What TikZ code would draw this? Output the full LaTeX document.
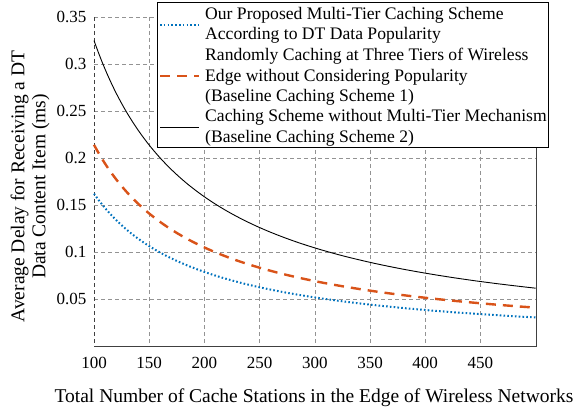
\documentclass[tikz,border=0pt]{standalone}
\usepackage{fontspec}
\setmainfont{Liberation Serif}
\definecolor{mblue}{RGB}{0,114,189}
\definecolor{morange}{RGB}{217,83,25}
\tikzstyle{gridline}=[draw=gray!85, dash pattern=on 4pt off 3pt, line width=0.6pt]
\tikzstyle{axisline}=[draw=black!75, line width=0.8pt]
\tikzstyle{proposed}=[draw=mblue, line width=2pt, dash pattern=on 1.6pt off 2.2pt]
\tikzstyle{baselineone}=[draw=morange, line width=2.4pt, dash pattern=on 10pt off 7pt]
\tikzstyle{baselinetwo}=[draw=black, line width=0.9pt]
\tikzstyle{axislabel}=[font=\fontsize{19.5}{21}\selectfont]
\tikzstyle{legendtext}=[anchor=west, align=left, inner sep=0pt, font=\fontsize{17.6}{20.5}\selectfont]

\begin{document}
\begin{tikzpicture}[x=1pt,y=-1pt,font=\fontsize{17}{20.5}\selectfont]
\useasboundingbox (0,0) rectangle (573,417);
% grid
\foreach \i in {1,...,7} \draw[gridline] ({94+\i*55.2},17) -- ({94+\i*55.2},346);
\foreach \j in {1,...,7} \draw[gridline] (94,{346-\j*47}) -- (536,{346-\j*47});
\draw[gridline, draw=black!75] (94,17) -- (94,346);
\draw[axisline] (94,346) -- (536,346) -- (536,17);
% tick labels
\foreach \i/\lab in {0/100,1/150,2/200,3/250,4/300,5/350,6/400,7/450}
  \node (xt\i) at ({94+\i*55.2},363) {\lab};
\foreach \j/\lab in {1/0.05,2/0.1,3/0.15,4/0.2,5/0.25,6/0.3,7/0.35}
  \node[anchor=east] (yt\j) at (90,{346-\j*47}) {\lab};
\node[axislabel] (xlab) at (314,398) {Total Number of Cache Stations in the Edge of Wireless Networks};
\node[axislabel, rotate=90, align=center] (ylab) at (30,186.5) {Average Delay for Receiving a DT\\Data Content Item (ms)};
% curves
\begin{scope}[shift={(94pt,-346pt)}, x=1.104pt, y=940pt]
\draw[baselinetwo] plot[domain=0:400, samples=100, smooth] (\x, {0.325*exp(-1.034*ln(1+\x/100))});
\draw[baselineone] plot[domain=0:400, samples=100, smooth] (\x, {0.214*exp(-1.03*ln(1+\x/100))});
\draw[proposed] plot[domain=0:400, samples=100, smooth] (\x, {0.162*exp(-1.04*ln(1+\x/100))});
\end{scope}
% legend
\node[draw=black, fill=white, line width=0.8pt, minimum width=391pt, minimum height=145pt,
  anchor=north west, inner sep=0pt] (legendbox) at (157,2) {};
\draw[proposed] (160,25) -- (199,25);
\draw[baselineone] (160,76) -- (199,76);
\draw[baselinetwo] (160,127) -- (199,127);
\node[legendtext] (leg1) at (205,25.5)
  {Our Proposed Multi-Tier Caching Scheme\\According to DT Data Popularity};
\node[legendtext] (leg2) at (205,77)
  {Randomly Caching at Three Tiers of Wireless\\Edge without Considering Popularity\\(Baseline Caching Scheme 1)};
\node[legendtext] (leg3) at (205,128)
  {Caching Scheme without Multi-Tier Mechanism\\(Baseline Caching Scheme 2)};
\end{tikzpicture}
\end{document}
